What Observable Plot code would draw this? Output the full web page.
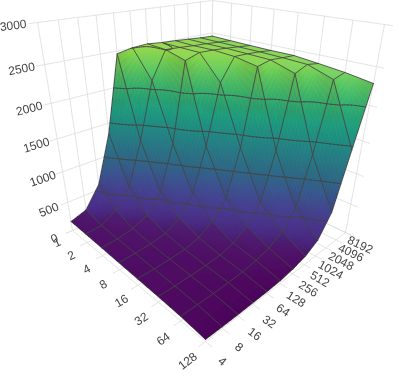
<!DOCTYPE html>
<html>
<head>
<meta charset="utf-8">
<script src="https://cdn.jsdelivr.net/npm/d3@7"></script>
<script src="https://cdn.jsdelivr.net/npm/@observablehq/plot@0.6"></script>
<style>html,body{margin:0;background:#fff}svg{display:block;filter:blur(.3px)}</style>
</head>
<body>
<div id="chart"></div>
<script>
const xTicks = [1, 2, 4, 8, 16, 32, 64, 128];
const yTicks = [4, 8, 16, 32, 64, 128, 256, 512, 1024, 2048, 4096, 8192];
const zTicks = [0, 500, 1000, 1500, 2000, 2500, 3000];
const contourLevels = [500, 1000, 1500, 2000, 2500];
const zAtX1   = [163, 250, 590, 1345, 2462, 2505, 2520, 2500, 2490, 2475, 2460, 2450];
const zAtX2   = [150, 170, 311, 599, 1282, 2119, 2505, 2495, 2480, 2470, 2455, 2440];
const zAtX4   = [135, 150, 196, 298, 580, 1286, 2428, 2493, 2485, 2470, 2450, 2430];
const zAtX8   = [120, 130, 150, 190, 321, 630, 1300, 2160, 2466, 2460, 2445, 2423];
const zAtX16  = [105, 110, 120, 140, 203, 340, 615, 1329, 2409, 2450, 2435, 2421];
const zAtX32  = [90, 90, 95, 105, 130, 190, 340, 618, 1337, 2349, 2419, 2385];
const zAtX64  = [70, 70, 70, 80, 95, 130, 190, 340, 591, 1330, 2305, 2345];
const zAtX128 = [30, 25, 25, 28, 32, 45, 80, 140, 270, 600, 1450, 2288];
const zRows = [zAtX1, zAtX2, zAtX4, zAtX8, zAtX16, zAtX32, zAtX64, zAtX128];

// camera: homogeneous projection of the unit axis box (u along x, v along y, w along z)
const cam = {
  X: [77.61, 194.7, -42.88, 72],
  Y: [18.86, -17.32, -212.68, 230],
  W: [-0.2702, 0.2682, -0.213, 1]
};
const zTop = 3000;
const ni = xTicks.length - 1, nj = yTicks.length - 1;
const dot4 = (c, u, v, w) => c[0]*u + c[1]*v + c[2]*w + c[3];
const project = (u, v, w) => {
  const d = dot4(cam.W, u, v, w);
  return {px: dot4(cam.X, u, v, w) / d, py: dot4(cam.Y, u, v, w) / d, depth: d};
};
const angle = (a, b) => {
  const p = project(...a), q = project(...b);
  return Math.atan2(q.py - p.py, q.px - p.px) * 180 / Math.PI;
};

const bil = (a, b, c, d, s, t) => a*(1-s)*(1-t) + b*s*(1-t) + c*(1-s)*t + d*s*t;
const zAt = (i, j, s, t) => bil(zRows[i][j], zRows[i+1][j], zRows[i][j+1], zRows[i+1][j+1], s, t);
// how much a patch faces upward: the true normal of each bilinear patch
const upAt = (i, j, s, t) => {
  const r = zRows;
  const dzu = ((1-t)*(r[i+1][j]-r[i][j]) + t*(r[i+1][j+1]-r[i][j+1])) * ni / zTop;
  const dzv = ((1-s)*(r[i][j+1]-r[i][j]) + s*(r[i+1][j+1]-r[i+1][j])) * nj / zTop;
  return 1 / Math.hypot(dzu, dzv, 1);
};
// lighting tint laid over the colour scale
const tint = (up, z) => {
  if (z > 1800) {
    if (up > .55) return {c: "white", a: (up - .55) * .16};
    return {c: "#3a3a00", a: (.55 - up) * .45};
  }
  if (z > 900) return {c: "#2e3a00", a: (.5 - up) * .3 > 0 ? (.5 - up) * .3 : 0};
  if (up < .35) return {c: "#150a30", a: (.35 - up) * .5};
  if (up < .85) return {c: "#5040b0", a: .32 * Math.sin((up - .35) / .5 * Math.PI)};
  return {c: "#7a0a70", a: .14};
};

// fine surface cells, painter-sorted
const sub = 10;
const cells = [];
const segs = [];
for (let i = 0; i < ni; i++) for (let j = 0; j < nj; j++) for (let a = 0; a < sub; a++) for (let b = 0; b < sub; b++) {
  const c = [[a, b], [a+1, b], [a+1, b+1], [a, b+1]].map(([p, q]) => {
    const s = p/sub, t = q/sub, z = zAt(i, j, s, t);
    return {...project((i+s)/ni, (j+t)/nj, z/zTop), z};
  });
  const zc = zAt(i, j, (a+.5)/sub, (b+.5)/sub);
  cells.push({c, zc, tint: tint(upAt(i, j, (a+.5)/sub, (b+.5)/sub), zc), depth: d3.mean(c, d => d.depth)});
  for (const lev of contourLevels) {
    const pts = [];
    for (let k = 0; k < 4; k++) {
      const p = c[k], q = c[(k+1)%4];
      if ((p.z - lev) * (q.z - lev) < 0) {
        const r = (lev - p.z) / (q.z - p.z);
        pts.push({px: p.px + r*(q.px-p.px), py: p.py + r*(q.py-p.py)});
      }
    }
    if (pts.length === 2) { const id = segs.length; segs.push({id, ...pts[0]}, {id, ...pts[1]}); }
  }
}
cells.sort((a, b) => b.depth - a.depth);
const cellPts = [];
cells.forEach((cell, id) => cell.c.forEach(p => cellPts.push({id, px: p.px, py: p.py, zc: cell.zc, tc: cell.tint.c, ta: cell.tint.a})));

// wireframe along grid lines
const wire = [];
zRows.forEach((r, i) => r.forEach((z, j) => wire.push({id: "x"+i, ...project(i/ni, j/nj, z/zTop)})));
yTicks.forEach((_, j) => zRows.forEach((r, i) => wire.push({id: "y"+j, ...project(i/ni, j/nj, r[j]/zTop)})));

// axis box grid
const grid = [];
const seg = (id, a, b) => { grid.push({id, ...project(...a)}, {id, ...project(...b)}); };
const tickOut = 0.035;
xTicks.forEach((_, i) => {
  const u = i/ni;
  seg("fx"+i, [u, -tickOut, 0], [u, 1, 0]);
  seg("wx"+i, [u, 1, 0], [u, 1, 1]);
});
yTicks.forEach((_, j) => {
  const v = j/nj;
  seg("fy"+j, [0, v, 0], [1+tickOut, v, 0]);
  seg("wy"+j, [0, v, 0], [0, v, 1]);
});
zTicks.forEach((t, k) => {
  const w = t/zTop;
  seg("zl"+k, [0, -tickOut, w], [0, 1, w]);
  seg("zr"+k, [0, 1, w], [1+tickOut, 1, w]);
});

const xLabels = xTicks.map((t, i) => ({t: String(t), rot: angle([i/ni, 0, 0], [i/ni, 1, 0]), ...project(i/ni, -0.09, -0.03)}));
const yLabels = yTicks.map((t, j) => ({t: String(t), rot: angle([1, j/nj, 0], [0, j/nj, 0]) + 180, ...project(1.09, j/nj, -0.03)}));
const zLabels = zTicks.map((t, k) => ({t: String(t), rot: angle([0, 0, t/zTop], [0, 1, t/zTop]), ...project(0, -0.1, t/zTop)}));
const font = {fontFamily: "'Liberation Sans', Arial, sans-serif", fontSize: 12, fill: "#444"};

const plot = Plot.plot({
  width: 399, height: 376, margin: 0,
  x: {axis: null, domain: [0, 399], range: [0, 399]},
  y: {axis: null, domain: [0, 376], range: [0, 376]},
  color: {type: "linear", domain: [0, zTop], scheme: "viridis"},
  style: {background: "#fff"},
  marks: [
    Plot.line(grid, {x: "px", y: "py", z: "id", stroke: "#e2e2e2", strokeWidth: 1, strokeDasharray: "3,1"}),
    Plot.line(cellPts, {x: "px", y: "py", z: "id", fill: "zc", shapeRendering: "crispEdges", stroke: "none"}),
    Plot.line(cellPts, {x: "px", y: "py", z: "id", fill: "tc", fillOpacity: "ta", shapeRendering: "crispEdges", stroke: "none"}),
    Plot.line(segs, {x: "px", y: "py", z: "id", stroke: "#444", strokeWidth: 1, strokeOpacity: .8, strokeLinecap: "round"}),
    Plot.line(wire, {x: "px", y: "py", z: "id", stroke: "#444", strokeWidth: 1, strokeOpacity: .85}),
    Plot.text(xLabels, {x: "px", y: "py", text: "t", rotate: "rot", ...font}),
    Plot.text(yLabels, {x: "px", y: "py", text: "t", rotate: "rot", ...font}),
    Plot.text(zLabels, {x: "px", y: "py", text: "t", rotate: "rot", ...font})
  ]
});
document.getElementById("chart").append(plot);
</script>
</body>
</html>
